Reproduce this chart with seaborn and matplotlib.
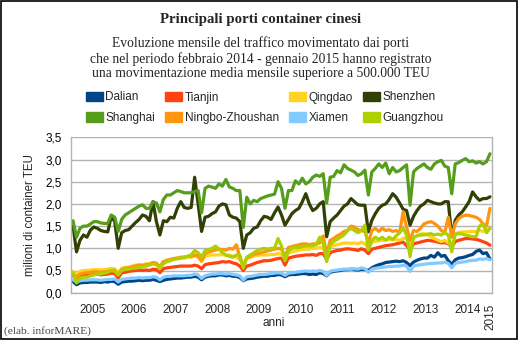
import numpy as np
import pandas as pd
import matplotlib
matplotlib.use("Agg")
import matplotlib.pyplot as plt
from matplotlib.patches import Patch, Rectangle
import seaborn as sns

# ---------------- data ----------------
years = ["2005", "2006", "2007", "2008", "2009", "2010", "2011", "2012", "2013", "2014"]
last_year = "2015"
ports = ["Dalian", "Tianjin", "Qingdao", "Shenzhen",
         "Shanghai", "Ningbo-Zhoushan", "Xiamen", "Guangzhou"]
port_colors = ["#004586", "#ff420e", "#ffd320", "#314004",
               "#579d1c", "#ff950e", "#83caff", "#aecf00"]
yticks = [0.0, 0.5, 1.0, 1.5, 2.0, 2.5, 3.0, 3.5]
ytick_labels = ["0,0", "0,5", "1,0", "1,5", "2,0", "2,5", "3,0", "3,5"]

# monthly values (million TEU), Jan 2005 ... Jan 2015
dalian = [
    0.25, 0.18, 0.22, 0.23, 0.23, 0.24, 0.24, 0.24, 0.23, 0.25, 0.24, 0.26,
    0.25, 0.19, 0.24, 0.25, 0.26, 0.26, 0.27, 0.28, 0.27, 0.28, 0.28, 0.30,
    0.28, 0.25, 0.28, 0.30, 0.31, 0.32, 0.33, 0.33, 0.34, 0.35, 0.35, 0.37,
    0.35, 0.29, 0.35, 0.37, 0.38, 0.38, 0.40, 0.40, 0.38, 0.39, 0.37, 0.37,
    0.34, 0.27, 0.31, 0.32, 0.33, 0.35, 0.36, 0.37, 0.37, 0.39, 0.39, 0.41,
    0.40, 0.36, 0.40, 0.41, 0.41, 0.42, 0.43, 0.43, 0.41, 0.42, 0.41, 0.45,
    0.43, 0.38, 0.46, 0.48, 0.49, 0.50, 0.52, 0.52, 0.53, 0.52, 0.51, 0.53,
    0.52, 0.50, 0.56, 0.60, 0.63, 0.65, 0.68, 0.69, 0.70, 0.71, 0.70, 0.72,
    0.68, 0.61, 0.69, 0.73, 0.76, 0.78, 0.78, 0.84, 0.80, 0.90, 0.82, 0.84,
    0.72, 0.64, 0.74, 0.78, 0.79, 0.81, 0.84, 0.86, 0.93, 0.96, 0.88, 0.90,
    0.76]
tianjin = [
    0.38, 0.33, 0.38, 0.40, 0.39, 0.40, 0.41, 0.42, 0.40, 0.41, 0.42, 0.44,
    0.43, 0.33, 0.45, 0.46, 0.48, 0.49, 0.50, 0.51, 0.50, 0.51, 0.50, 0.53,
    0.52, 0.45, 0.54, 0.56, 0.57, 0.58, 0.59, 0.60, 0.60, 0.60, 0.60, 0.62,
    0.60, 0.54, 0.63, 0.65, 0.66, 0.67, 0.68, 0.70, 0.69, 0.70, 0.67, 0.65,
    0.60, 0.50, 0.60, 0.62, 0.65, 0.68, 0.70, 0.72, 0.72, 0.73, 0.75, 0.77,
    0.78, 0.62, 0.78, 0.80, 0.82, 0.83, 0.84, 0.85, 0.85, 0.86, 0.84, 0.88,
    0.88, 0.75, 0.90, 0.93, 0.95, 0.96, 0.98, 0.99, 0.98, 0.97, 0.95, 0.99,
    0.96, 0.88, 0.98, 1.00, 1.02, 1.04, 1.06, 1.07, 1.08, 1.10, 1.12, 1.14,
    1.06, 0.96, 1.10, 1.12, 1.14, 1.16, 1.18, 1.17, 1.16, 1.14, 1.12, 1.13,
    1.10, 1.03, 1.15, 1.18, 1.20, 1.22, 1.22, 1.21, 1.20, 1.18, 1.15, 1.12,
    1.07]
qingdao = [
    0.48, 0.42, 0.48, 0.50, 0.50, 0.51, 0.52, 0.52, 0.51, 0.52, 0.53, 0.55,
    0.54, 0.45, 0.55, 0.57, 0.58, 0.60, 0.62, 0.63, 0.63, 0.65, 0.65, 0.68,
    0.67, 0.58, 0.70, 0.72, 0.74, 0.76, 0.78, 0.78, 0.78, 0.80, 0.80, 0.82,
    0.80, 0.70, 0.82, 0.84, 0.85, 0.85, 0.85, 0.86, 0.84, 0.85, 0.82, 0.80,
    0.75, 0.62, 0.78, 0.80, 0.82, 0.84, 0.85, 0.85, 0.85, 0.86, 0.86, 0.88,
    0.87, 0.75, 0.90, 0.92, 0.94, 0.96, 0.97, 0.98, 0.98, 1.00, 1.00, 1.02,
    1.00, 0.88, 1.04, 1.06, 1.08, 1.10, 1.12, 1.12, 1.11, 1.12, 1.10, 1.14,
    1.10, 1.00, 1.14, 1.16, 1.17, 1.18, 1.19, 1.20, 1.19, 1.20, 1.18, 1.22,
    1.24, 1.05, 1.25, 1.28, 1.32, 1.33, 1.30, 1.26, 1.22, 1.18, 1.15, 1.18,
    1.12, 1.05, 1.32, 1.36, 1.37, 1.37, 1.38, 1.38, 1.38, 1.40, 1.38, 1.42,
    1.45]
shenzhen = [
    1.50, 0.92, 1.18, 1.30, 1.25, 1.41, 1.48, 1.45, 1.40, 1.38, 1.37, 1.72,
    1.60, 1.00, 1.35, 1.40, 1.42, 1.50, 1.58, 1.65, 1.75, 1.72, 1.62, 2.05,
    1.60, 1.30, 1.62, 1.60, 1.70, 1.68, 1.90, 2.05, 1.92, 1.90, 1.92, 2.60,
    2.00, 1.38, 1.70, 1.72, 1.78, 1.82, 1.95, 2.00, 1.98, 1.75, 1.70, 1.68,
    1.60, 1.00, 1.30, 1.35, 1.45, 1.48, 1.62, 1.72, 1.70, 1.65, 1.80, 1.93,
    1.75, 1.52, 1.65, 1.78, 1.85, 1.90, 2.05, 2.23, 2.00, 1.85, 1.90, 2.00,
    2.05, 1.26, 1.60, 1.68, 1.75, 1.85, 1.95, 2.00, 2.12, 2.05, 1.98, 1.97,
    1.97, 1.37, 1.63, 1.78, 1.90, 1.97, 2.00, 2.10, 2.23, 2.15, 2.02, 1.88,
    1.85, 1.52, 1.72, 1.85, 1.95, 2.00, 2.08, 2.05, 2.02, 2.00, 2.00, 2.05,
    2.05, 1.26, 1.63, 1.75, 1.82, 1.93, 2.05, 2.27, 2.16, 2.08, 2.12, 2.12,
    2.16]
shanghai = [
    1.62, 1.25, 1.45, 1.50, 1.50, 1.55, 1.60, 1.60, 1.57, 1.56, 1.56, 1.75,
    1.70, 1.38, 1.65, 1.75, 1.80, 1.85, 1.90, 1.95, 1.98, 1.90, 1.90, 2.05,
    2.02, 1.82, 2.10, 2.20, 2.20, 2.25, 2.30, 2.28, 2.25, 2.25, 2.25, 2.28,
    2.30, 1.80, 2.35, 2.40, 2.38, 2.35, 2.45, 2.40, 2.55, 2.38, 2.35, 2.30,
    2.30, 1.47, 2.15, 2.00, 2.08, 2.05, 2.12, 2.15, 2.18, 2.20, 2.22, 2.50,
    2.35, 1.90, 2.30, 2.30, 2.52, 2.45, 2.58, 2.45, 2.50, 2.60, 2.65, 2.62,
    2.68, 2.02, 2.60, 2.62, 2.75, 2.70, 2.88, 2.80, 2.76, 2.72, 2.64, 2.68,
    2.76, 2.20, 2.72, 2.80, 2.90, 2.82, 2.92, 2.68, 2.82, 2.72, 2.75, 2.82,
    2.88, 1.97, 2.72, 2.80, 2.85, 2.90, 2.82, 2.78, 2.90, 2.95, 2.98, 2.85,
    2.82, 2.23, 2.90, 2.93, 2.98, 3.02, 2.95, 2.97, 2.92, 2.95, 2.90, 2.95,
    3.13]
ningbo = [
    0.42, 0.35, 0.42, 0.44, 0.45, 0.46, 0.47, 0.47, 0.46, 0.47, 0.48, 0.50,
    0.50, 0.40, 0.52, 0.55, 0.56, 0.58, 0.60, 0.62, 0.61, 0.63, 0.64, 0.68,
    0.66, 0.58, 0.70, 0.73, 0.75, 0.77, 0.78, 0.80, 0.80, 0.82, 0.82, 0.85,
    0.83, 0.72, 0.88, 0.92, 0.94, 0.96, 0.98, 0.97, 0.96, 1.00, 0.98, 1.08,
    0.80, 0.60, 0.78, 0.82, 0.86, 0.88, 0.90, 0.92, 0.94, 0.96, 0.98, 1.00,
    0.98, 0.80, 1.02, 1.04, 1.06, 1.08, 1.10, 1.10, 1.08, 1.10, 1.10, 1.12,
    1.28, 0.85, 1.18, 1.22, 1.28, 1.32, 1.38, 1.40, 1.50, 1.48, 1.42, 1.40,
    1.38, 1.12, 1.40, 1.45, 1.38, 1.45, 1.40, 1.42, 1.38, 1.40, 1.35, 1.82,
    1.48, 1.18, 1.40, 1.38, 1.45, 1.55, 1.58, 1.60, 1.56, 1.50, 1.40, 1.35,
    1.70, 1.26, 1.55, 1.67, 1.72, 1.75, 1.74, 1.72, 1.70, 1.65, 1.55, 1.50,
    1.90]
xiamen = [
    0.29, 0.24, 0.27, 0.28, 0.28, 0.29, 0.29, 0.29, 0.28, 0.29, 0.30, 0.30,
    0.31, 0.24, 0.30, 0.31, 0.32, 0.33, 0.33, 0.34, 0.33, 0.34, 0.34, 0.36,
    0.35, 0.29, 0.35, 0.37, 0.37, 0.38, 0.38, 0.38, 0.38, 0.39, 0.39, 0.42,
    0.40, 0.32, 0.38, 0.40, 0.42, 0.42, 0.43, 0.43, 0.42, 0.43, 0.41, 0.40,
    0.38, 0.28, 0.36, 0.37, 0.38, 0.40, 0.41, 0.41, 0.42, 0.43, 0.44, 0.45,
    0.44, 0.39, 0.44, 0.45, 0.46, 0.47, 0.48, 0.49, 0.48, 0.49, 0.48, 0.50,
    0.48, 0.39, 0.48, 0.50, 0.51, 0.52, 0.53, 0.53, 0.53, 0.54, 0.53, 0.56,
    0.54, 0.46, 0.53, 0.55, 0.56, 0.57, 0.58, 0.59, 0.59, 0.60, 0.60, 0.62,
    0.60, 0.48, 0.60, 0.62, 0.63, 0.64, 0.65, 0.66, 0.66, 0.67, 0.67, 0.69,
    0.66, 0.56, 0.66, 0.68, 0.69, 0.70, 0.72, 0.73, 0.73, 0.76, 0.75, 0.77,
    0.74]
guangzhou = [
    0.45, 0.22, 0.33, 0.35, 0.35, 0.38, 0.40, 0.42, 0.42, 0.44, 0.46, 0.50,
    0.48, 0.40, 0.50, 0.52, 0.53, 0.55, 0.55, 0.57, 0.58, 0.60, 0.62, 0.65,
    0.63, 0.55, 0.65, 0.70, 0.72, 0.75, 0.76, 0.78, 0.80, 0.82, 0.85, 0.95,
    0.90, 0.80, 0.95, 0.97, 1.00, 1.05, 0.98, 0.90, 0.85, 0.82, 0.80, 0.85,
    0.85, 0.55, 0.80, 0.85, 0.90, 0.95, 0.98, 1.00, 0.98, 1.00, 1.00, 1.22,
    1.05, 0.72, 0.95, 1.00, 1.02, 1.02, 1.04, 1.05, 1.05, 1.06, 1.08, 1.25,
    1.12, 0.70, 1.08, 1.15, 1.20, 1.25, 1.30, 1.40, 1.45, 1.40, 1.35, 1.40,
    1.52, 0.96, 1.18, 1.25, 1.20, 1.25, 1.18, 1.25, 1.20, 1.28, 1.35, 1.45,
    1.30, 0.81, 1.25, 1.28, 1.30, 1.30, 1.32, 1.33, 1.30, 1.32, 1.30, 1.35,
    1.30, 0.92, 1.32, 1.33, 1.32, 1.30, 1.28, 1.26, 1.26, 1.50, 1.55, 1.35,
    1.45]

series = [dalian, tianjin, qingdao, shenzhen, shanghai, ningbo, xiamen, guangzhou]
months = list(range(len(dalian)))

df = pd.concat(
    [pd.DataFrame({"mese": months, "valore": vals, "porto": name})
     for name, vals in zip(ports, series)],
    ignore_index=True)

# ---------------- style ----------------
sns.set_style("white")
plt.rcParams["font.family"] = ["Liberation Sans", "DejaVu Sans"]
GRID = "#b3b3b3"
SERIF = ["Liberation Serif", "DejaVu Serif"]

W, H = 521, 341
fig = plt.figure(figsize=(W / 100, H / 100), dpi=100)
fig.patch.set_facecolor("white")


def fx(x):
    return x / W


def fy(y):
    return 1 - y / H


L, R, T, B = 71.3, 491.7, 137.3, 292.7
ax = fig.add_axes([fx(L), fy(B), fx(R) - fx(L), fy(T) - fy(B)])

sns.lineplot(data=df, x="mese", y="valore", hue="porto", hue_order=ports,
             palette=dict(zip(ports, port_colors)), linewidth=2.3,
             errorbar=None, legend=False, ax=ax)

ax.set_xlim(-0.5, len(months) - 0.5)
ax.set_ylim(0, 3.5)
ax.set_yticks(yticks)
ax.set_yticklabels(ytick_labels, fontsize=8.5, color="#000000")
ax.yaxis.grid(True, color=GRID, linewidth=1.0)
ax.xaxis.grid(False)
ax.set_axisbelow(True)
for s in ["left", "right", "bottom"]:
    ax.spines[s].set_color(GRID)
    ax.spines[s].set_linewidth(1.0)
ax.spines["top"].set_visible(False)
ax.tick_params(axis="y", length=4, width=1, color=GRID, pad=3)

# year boundaries as major ticks, year labels as minor ticks
bounds = [-0.5 + 12 * i for i in range(len(years) + 1)]
ax.set_xticks(bounds)
ax.set_xticklabels([""] * len(bounds))
ax.tick_params(axis="x", which="major", length=5, width=1, color=GRID)
centers = [5.5 + 12 * i for i in range(len(years))]
ax.set_xticks(centers + [len(months) - 1], minor=True)
ax.set_xticklabels(years + [last_year], minor=True, fontsize=8.5)
ax.tick_params(axis="x", which="minor", length=0, pad=8)
lab = ax.get_xticklabels(minor=True)[-1]
lab.set_rotation(90)
lab.set_va("top")
lab.set_ha("center")

ax.set_xlabel("")
ax.set_ylabel("")
fig.text(fx(30), fy(215), "milioni di container TEU", rotation=90,
         ha="center", va="center", fontsize=8.3)
fig.text(fx(273.5), fy(323), "anni", ha="center", va="center", fontsize=8.5)

# titles
fig.text(fx(260.5), fy(22.5), "Principali porti container cinesi",
         ha="center", va="baseline", family=SERIF, weight="bold", fontsize=10.7)
sub = ["Evoluzione mensile del traffico movimentato dai porti",
       "che nel periodo febbraio 2014 - gennaio 2015 hanno registrato",
       "una movimentazione media mensile superiore a 500.000 TEU"]
for yy, line in zip([46.5, 62.5, 77.5], sub):
    fig.text(fx(260.5), fy(yy), line, ha="center", va="baseline",
             family=SERIF, fontsize=9.85)

fig.text(fx(4), fy(334), "(elab. inforMARE)", ha="left", va="baseline",
         family=SERIF, fontsize=8.2, color="#444444")

# legend: row-major order (4 per row) -> reorder for matplotlib's column fill
ncol = 4
order = [r * ncol + c for c in range(ncol) for r in range(2)]
handles = [Patch(facecolor=port_colors[i], edgecolor=port_colors[i]) for i in order]
labels = [ports[i] for i in order]
fig.legend(handles, labels, loc="upper left",
           bbox_to_anchor=(fx(86), fy(91.5)), ncol=ncol, frameon=False,
           fontsize=8.5, handlelength=1.45, handleheight=0.85,
           handletextpad=0.2, columnspacing=0.85, labelspacing=0.72,
           borderpad=0, borderaxespad=0)

# outer border
fig.patches.append(Rectangle((fx(0.8), fy(339.3)), fx(516.5), (339.3 - 0.8) / H,
                             transform=fig.transFigure, fill=False,
                             edgecolor="black", linewidth=1.2))

fig.savefig("out.png", dpi=100, facecolor="white")
